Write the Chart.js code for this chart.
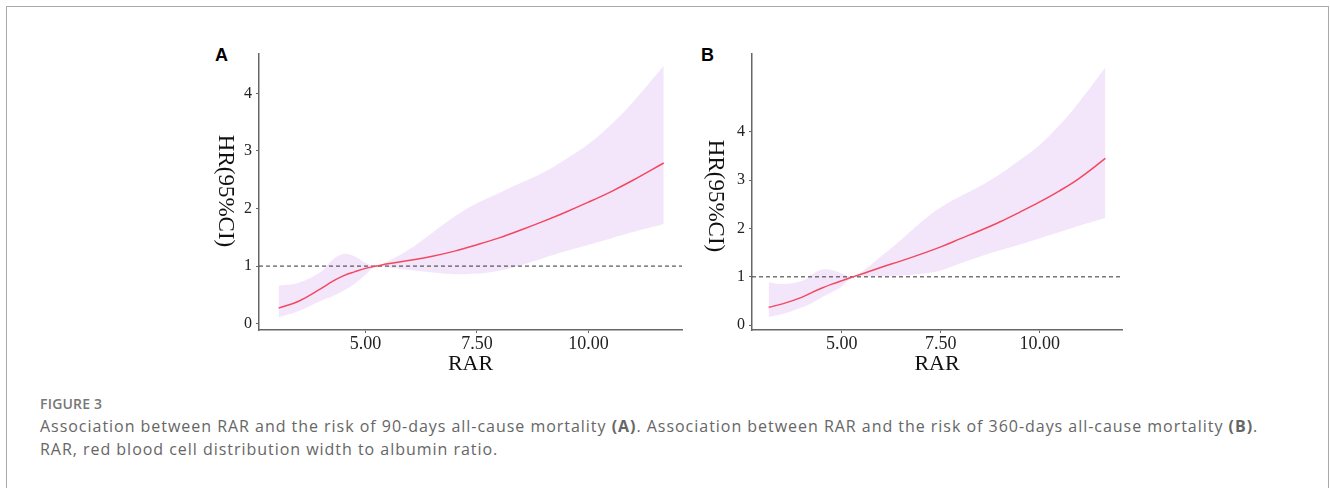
<!DOCTYPE html>
<html>
<head>
<meta charset="utf-8">
<script src="https://cdn.jsdelivr.net/npm/chart.js@4.4.1/dist/chart.umd.min.js"></script>
<style>
  body { margin: 0; width: 1330px; height: 488px; background: #fff; position: relative; overflow: hidden; }
  .frame { position: absolute; left: 6px; top: 6px; width: 1321px; height: 500px; border: 1px solid #aaa; border-bottom: none; }
  .tag { position: absolute; font: bold 18px "Liberation Sans", Arial, sans-serif; line-height: 18px; color: #000; }
  canvas { position: absolute; }
  .fig { position: absolute; left: 40px; top: 395px; font: 600 14px "Open Sans", sans-serif; letter-spacing: 0.2px; line-height: 18px; color: #777; }
  .cap { position: absolute; left: 40px; top: 415px; font: 16px "Open Sans", sans-serif; letter-spacing: 0.97px; line-height: 23.3px; color: #666; white-space: nowrap; }
  .cap b { font-weight: 700; }
</style>
</head>
<body>
<div class="frame"></div>
<div class="tag" style="left:215px;top:46px">A</div>
<div class="tag" style="left:701px;top:46px">B</div>
<canvas id="chartA" width="490" height="340" style="left:200px;top:40px"></canvas>
<canvas id="chartB" width="440" height="340" style="left:690px;top:40px"></canvas>
<div class="fig">FIGURE 3</div>
<div class="cap">Association between RAR and the risk of 90-days all-cause mortality <b>(A)</b>. Association between RAR and the risk of 360-days all-cause mortality <b>(B)</b>.<br>RAR, red blood cell distribution width to albumin ratio.</div>

<script>
// --- values ---
// panel A: 90-days mortality
const rarA   = [3.05, 3.5, 4.0, 4.25, 4.5, 4.75, 5.0, 5.25, 5.5, 6.0, 6.5, 7.0, 7.5, 8.0, 8.5, 9.0, 9.5, 10.0, 10.5, 11.0, 11.69];
const hrA    = [0.27, 0.39, 0.61, 0.73, 0.83, 0.90, 0.96, 1.00, 1.04, 1.10, 1.17, 1.26, 1.37, 1.49, 1.63, 1.78, 1.94, 2.11, 2.29, 2.49, 2.79];
const lowerA = [0.11, 0.22, 0.40, 0.47, 0.57, 0.69, 0.85, 1.00, 0.98, 0.93, 0.89, 0.86, 0.87, 0.92, 1.02, 1.14, 1.26, 1.37, 1.48, 1.59, 1.73];
const upperA = [0.66, 0.71, 0.90, 1.10, 1.21, 1.17, 1.06, 1.00, 1.08, 1.30, 1.58, 1.86, 2.09, 2.27, 2.45, 2.63, 2.86, 3.12, 3.45, 3.85, 4.48];

// panel B: 360-days mortality
const rarB   = [3.15, 3.5, 4.0, 4.25, 4.5, 4.75, 5.0, 5.25, 5.5, 6.0, 6.5, 7.0, 7.5, 8.0, 8.5, 9.0, 9.5, 10.0, 10.5, 11.0, 11.66];
const hrB    = [0.37, 0.44, 0.58, 0.68, 0.77, 0.85, 0.92, 0.99, 1.06, 1.20, 1.33, 1.47, 1.62, 1.79, 1.96, 2.14, 2.34, 2.55, 2.78, 3.04, 3.45];
const lowerB = [0.17, 0.23, 0.37, 0.46, 0.58, 0.68, 0.80, 0.98, 1.01, 1.02, 1.03, 1.06, 1.13, 1.28, 1.42, 1.55, 1.67, 1.80, 1.93, 2.06, 2.22];
const upperB = [0.89, 0.85, 0.92, 1.05, 1.15, 1.14, 1.07, 1.00, 1.10, 1.43, 1.77, 2.13, 2.44, 2.67, 2.88, 3.13, 3.42, 3.73, 4.14, 4.62, 5.33];

const xTicks = [5, 7.5, 10];
const yTicks = [0, 1, 2, 3, 4];
const refHR = 1;

const serif = '"Liberation Serif", "Times New Roman", serif';

function pts(xs, ys) {
    return xs.map((x, i) => ({ x: x, y: ys[i] }));
}

function makePanel(id, xs, hr, lo, hi, xr, yr, box) {
    const ctx = document.getElementById(id).getContext('2d');

    // y title reads top to bottom, so draw it ourselves
    const yTitle = {
        id: 'yTitle',
        afterDraw(chart) {
            const c = chart.ctx;
            c.save();
            c.translate(box.titleX, box.titleY);
            c.rotate(Math.PI / 2);
            c.font = '23px ' + serif;
            c.fillStyle = '#111';
            c.textAlign = 'center';
            c.textBaseline = 'middle';
            c.fillText('HR(95%CI)', 0, 0);
            c.restore();
        }
    };

    new Chart(ctx, {
        type: 'line',
        data: {
            datasets: [
                { data: pts(xs, hi), borderWidth: 0, pointRadius: 0, fill: '+1', backgroundColor: '#f3e6fb', tension: 0.4 },
                { data: pts(xs, lo), borderWidth: 0, pointRadius: 0, fill: false, tension: 0.4 },
                { data: pts(xs, hr), borderColor: '#f2495f', borderWidth: 1.5, pointRadius: 0, fill: false, tension: 0.4 },
                { data: [{ x: xr[0], y: refHR }, { x: xr[1], y: refHR }], borderColor: '#333', borderWidth: 1, borderDash: [4, 3], pointRadius: 0, fill: false }
            ]
        },
        options: {
            responsive: false,
            animation: false,
            layout: { padding: { left: 0, right: box.right, top: box.top, bottom: 0 } },
            plugins: {
                legend: { display: false },
                tooltip: { enabled: false },
                filler: { drawTime: 'beforeDatasetsDraw' }
            },
            scales: {
                x: {
                    type: 'linear',
                    min: xr[0],
                    max: xr[1],
                    afterBuildTicks: s => { s.ticks = xTicks.map(v => ({ value: v })); },
                    afterFit: s => { s.height = 50; },
                    grid: { display: true, drawOnChartArea: false, drawTicks: true, tickLength: 3, color: '#666' },
                    border: { display: true, color: '#666', width: 1.5 },
                    ticks: { padding: 0, color: '#222', font: { family: serif, size: 18 }, maxRotation: 0, callback: v => v.toFixed(2) },
                    title: { display: true, text: 'RAR', color: '#111', font: { family: serif, size: 22 }, padding: { top: 0, bottom: 3 } }
                },
                y: {
                    min: yr[0],
                    max: yr[1],
                    afterBuildTicks: s => { s.ticks = yTicks.map(v => ({ value: v })); },
                    afterFit: s => { s.width = box.left; },
                    grid: { display: true, drawOnChartArea: false, drawTicks: true, tickLength: 3, color: '#666' },
                    border: { display: true, color: '#666', width: 1.5 },
                    ticks: { padding: 4, color: '#222', font: { family: serif, size: 16 }, callback: v => String(v) }
                }
            }
        },
        plugins: [yTitle]
    });
}

makePanel('chartA', rarA, hrA, lowerA, upperA, [2.61, 12.1], [-0.11, 4.69],
    { left: 59, right: 8, top: 7, titleX: 25, titleY: 151 });
makePanel('chartB', rarB, hrB, lowerB, upperB, [2.73, 12.08], [-0.1, 5.62],
    { left: 62, right: 8, top: 4, titleX: 25, titleY: 156 });
</script>
</body>
</html>
